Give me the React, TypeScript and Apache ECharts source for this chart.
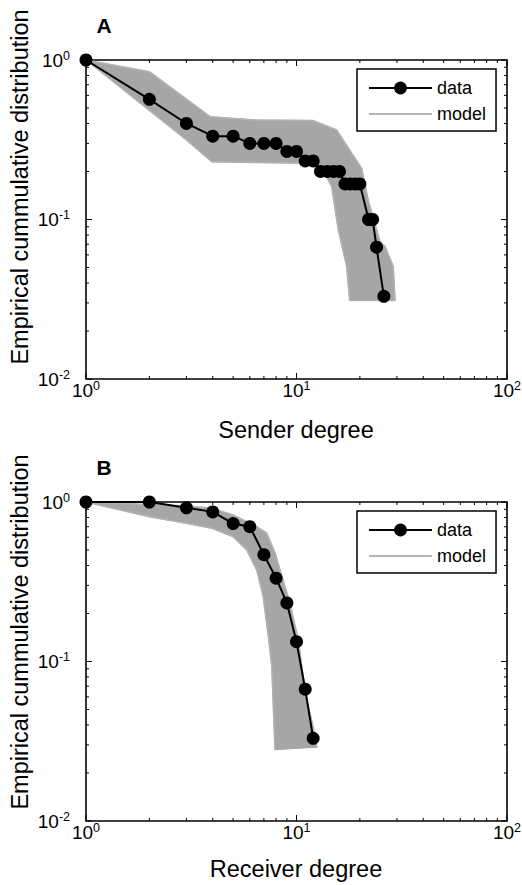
import React, { useEffect, useRef } from "react";
import * as echarts from "echarts";

// ---------- data ----------
const SENDER_DEGREE = [1, 2, 3, 4, 5, 6, 7, 8, 9, 10, 11, 12, 13, 14, 15, 16, 17, 18, 19, 20, 22, 23, 24, 26];
const SENDER_CDF = [1, 0.567, 0.4, 0.333, 0.333, 0.3, 0.3, 0.3, 0.267, 0.267, 0.233, 0.233, 0.2, 0.2, 0.2, 0.2, 0.167, 0.167, 0.167, 0.167, 0.1, 0.1, 0.067, 0.033];

const RECEIVER_DEGREE = [1, 2, 3, 4, 5, 6, 7, 8, 9, 10, 11, 12];
const RECEIVER_CDF = [1, 1, 0.92, 0.867, 0.733, 0.7, 0.467, 0.333, 0.233, 0.133, 0.067, 0.033];

// envelope of the simulated model curves (upper edge, lower edge)
const MODEL_A_UPPER = [[1, 1], [2, 0.845], [3.9, 0.44], [6.5, 0.42], [12, 0.417], [15.5, 0.364], [20.4, 0.209], [21.9, 0.132], [24.9, 0.073], [26.3, 0.068], [28.8, 0.051], [29.4, 0.031]];
const MODEL_A_LOWER = [[1, 1], [3, 0.315], [3.96, 0.23], [12, 0.225], [13.9, 0.185], [14.7, 0.16], [15.8, 0.086], [17.3, 0.051], [17.9, 0.031]];

const MODEL_B_UPPER = [[1, 1], [3, 0.944], [3.96, 0.913], [5, 0.829], [6.47, 0.7], [7.22, 0.637], [7.92, 0.477], [8.35, 0.375], [9.31, 0.232], [10.2, 0.136], [10.6, 0.093], [11.2, 0.057], [12, 0.039], [12.5, 0.029]];
const MODEL_B_LOWER = [[1, 1], [2, 0.809], [3, 0.735], [3.96, 0.684], [5, 0.606], [5.8, 0.5], [6.47, 0.375], [6.95, 0.255], [7.35, 0.143], [7.63, 0.093], [7.9, 0.028]];

// axis ticks
const X_MAJOR = [1, 10, 100];
const X_MINOR = [2, 3, 4, 5, 6, 7, 8, 9, 20, 30, 40, 50, 60, 70, 80, 90];
const Y_MAJOR = [0.01, 0.1, 1];
const Y_MINOR = [0.02, 0.03, 0.04, 0.05, 0.06, 0.07, 0.08, 0.09, 0.2, 0.3, 0.4, 0.5, 0.6, 0.7, 0.8, 0.9];

const PANEL_LETTERS = ["A", "B"];
const X_TITLES = ["Sender degree", "Receiver degree"];
const Y_TITLE = "Empirical cummulative distribution";
const SERIES_NAMES = ["data", "model"];

const FONT = '"Liberation Sans", Arial, Helvetica, sans-serif';
const BAND_COLOR = "#a6a6a6";
const MODEL_LINE = "#b3b3b3";

function makeOption() {
  const supLabel = (v: number) => {
    const e = Math.round(Math.log10(v));
    return `{b|10}{s|${e}}`;
  };
  const rich = {
    b: { fontSize: 19, fontFamily: FONT, color: "#000", lineHeight: 22 },
    s: { fontSize: 12.5, fontFamily: FONT, color: "#000", lineHeight: 12, verticalAlign: "top" },
  };

  const grids = [
    { left: 86, top: 60, width: 421, height: 319 },
    { left: 86, top: 502, width: 421, height: 319 },
  ].map((g) => ({
    ...g,
    show: true,
    borderColor: "#000",
    borderWidth: 1.6,
    backgroundColor: "transparent",
    containLabel: false,
    outerBoundsMode: "none",
  }));

  const xAxes = [0, 1].map((i) => ({
    type: "log",
    logBase: 10,
    gridIndex: i,
    min: 1,
    max: 100,
    axisLine: { show: false },
    axisTick: { show: false },
    splitLine: { show: false },
    axisLabel: { formatter: supLabel, rich, margin: 0, showMinLabel: true, showMaxLabel: true },
  }));
  const yAxes = [0, 1].map((i) => ({
    type: "log",
    logBase: 10,
    gridIndex: i,
    min: 0.01,
    max: 1,
    axisLine: { show: false },
    axisTick: { show: false },
    splitLine: { show: false },
    axisLabel: { formatter: supLabel, rich, margin: 16, showMinLabel: true, showMaxLabel: true },
  }));

  const bandRender = (upper: number[][], lower: number[][]) => (params: any, api: any) => {
    const pts = upper.map((p) => api.coord(p)).concat(lower.slice().reverse().map((p) => api.coord(p)));
    return {
      type: "polygon",
      shape: { points: pts },
      style: { fill: BAND_COLOR, stroke: BAND_COLOR, lineWidth: 1 },
    };
  };

  const tickRender = (params: any, api: any) => {
    const [x0, y0] = api.coord([1, 0.01]);
    const [x1, y1] = api.coord([100, 1]);
    const children: any[] = [];
    const add = (a: number, b: number, c: number, d: number) =>
      children.push({ type: "line", shape: { x1: a, y1: b, x2: c, y2: d }, style: { stroke: "#000", lineWidth: 1 } });
    const xt = (list: number[], len: number) =>
      list.forEach((v) => {
        const x = api.coord([v, 0.01])[0];
        add(x, y0, x, y0 - len);
        add(x, y1, x, y1 + len);
      });
    const yt = (list: number[], len: number) =>
      list.forEach((v) => {
        const y = api.coord([1, v])[1];
        add(x0, y, x0 + len, y);
        add(x1, y, x1 - len, y);
      });
    xt(X_MAJOR, 6);
    xt(X_MINOR, 3);
    yt(Y_MAJOR, 6);
    yt(Y_MINOR, 3);
    return { type: "group", children };
  };

  const panels = [
    { deg: SENDER_DEGREE, cdf: SENDER_CDF, up: MODEL_A_UPPER, lo: MODEL_A_LOWER },
    { deg: RECEIVER_DEGREE, cdf: RECEIVER_CDF, up: MODEL_B_UPPER, lo: MODEL_B_LOWER },
  ];

  const series: any[] = [];
  panels.forEach((p, i) => {
    series.push({
      type: "custom",
      xAxisIndex: i,
      yAxisIndex: i,
      silent: true,
      z: 1,
      data: [[1, 1]],
      renderItem: bandRender(p.up, p.lo),
    });
    [p.up, p.lo].forEach((edge) =>
      series.push({
        type: "line",
        name: SERIES_NAMES[1],
        xAxisIndex: i,
        yAxisIndex: i,
        data: edge,
        symbol: "none",
        color: MODEL_LINE,
        lineStyle: { color: MODEL_LINE, width: 1.5 },
        z: 2,
        clip: false,
        silent: true,
      })
    );
    series.push({
      type: "line",
      name: SERIES_NAMES[0],
      xAxisIndex: i,
      yAxisIndex: i,
      data: p.deg.map((d, k) => [d, p.cdf[k]]),
      symbol: "circle",
      symbolSize: 13,
      color: "#000",
      itemStyle: { color: "#000" },
      lineStyle: { color: "#000", width: 2 },
      z: 4,
      clip: false,
      silent: true,
    });
    series.push({
      type: "custom",
      xAxisIndex: i,
      yAxisIndex: i,
      silent: true,
      z: 5,
      data: [[1, 1]],
      renderItem: tickRender,
    });
  });

  const legends = [69, 511].map((top) => ({
    show: true,
    left: 357,
    top,
    orient: "vertical",
    data: [
      { name: SERIES_NAMES[0] },
      { name: SERIES_NAMES[1], itemStyle: { opacity: 0 } },
    ],
    borderColor: "#000",
    borderWidth: 1.5,
    backgroundColor: "#fff",
    padding: [10, 10, 8, 11],
    itemGap: 8,
    itemWidth: 63,
    itemHeight: 16,
    selectedMode: false,
    textStyle: { fontSize: 18, fontFamily: FONT, color: "#000" },
  }));

  const graphic: any[] = [];
  const panelTop = [60, 502];
  PANEL_LETTERS.forEach((L, i) => {
    graphic.push({
      type: "text",
      x: 104,
      y: panelTop[i] - 35,
      style: { text: L, fontSize: 21, fontWeight: "bold", fontFamily: FONT, fill: "#000", textAlign: "center", textVerticalAlign: "middle" },
    });
    graphic.push({
      type: "text",
      x: 296,
      y: [430, 869][i],
      style: { text: X_TITLES[i], fontSize: 23.5, fontFamily: FONT, fill: "#000", textAlign: "center", textVerticalAlign: "middle" },
    });
    graphic.push({
      type: "text",
      x: 20,
      y: [187, 632][i],
      rotation: Math.PI / 2,
      style: { text: Y_TITLE, fontSize: 23.5, fontFamily: FONT, fill: "#000", textAlign: "center", textVerticalAlign: "middle" },
    });
  });

  return {
    animation: false,
    backgroundColor: "#fff",
    textStyle: { fontFamily: FONT },
    grid: grids,
    xAxis: xAxes,
    yAxis: yAxes,
    legend: legends,
    series,
    graphic,
  };
}

export default function App() {
  const ref = useRef<HTMLDivElement>(null);
  useEffect(() => {
    if (!ref.current) return;
    const chart = echarts.init(ref.current, null, { renderer: "svg" });
    chart.setOption(makeOption() as any);
    return () => chart.dispose();
  }, []);
  return (
    <div
      ref={ref}
      style={{ position: "absolute", left: 0, top: 0, width: 522, height: 885, background: "#fff" }}
    />
  );
}
